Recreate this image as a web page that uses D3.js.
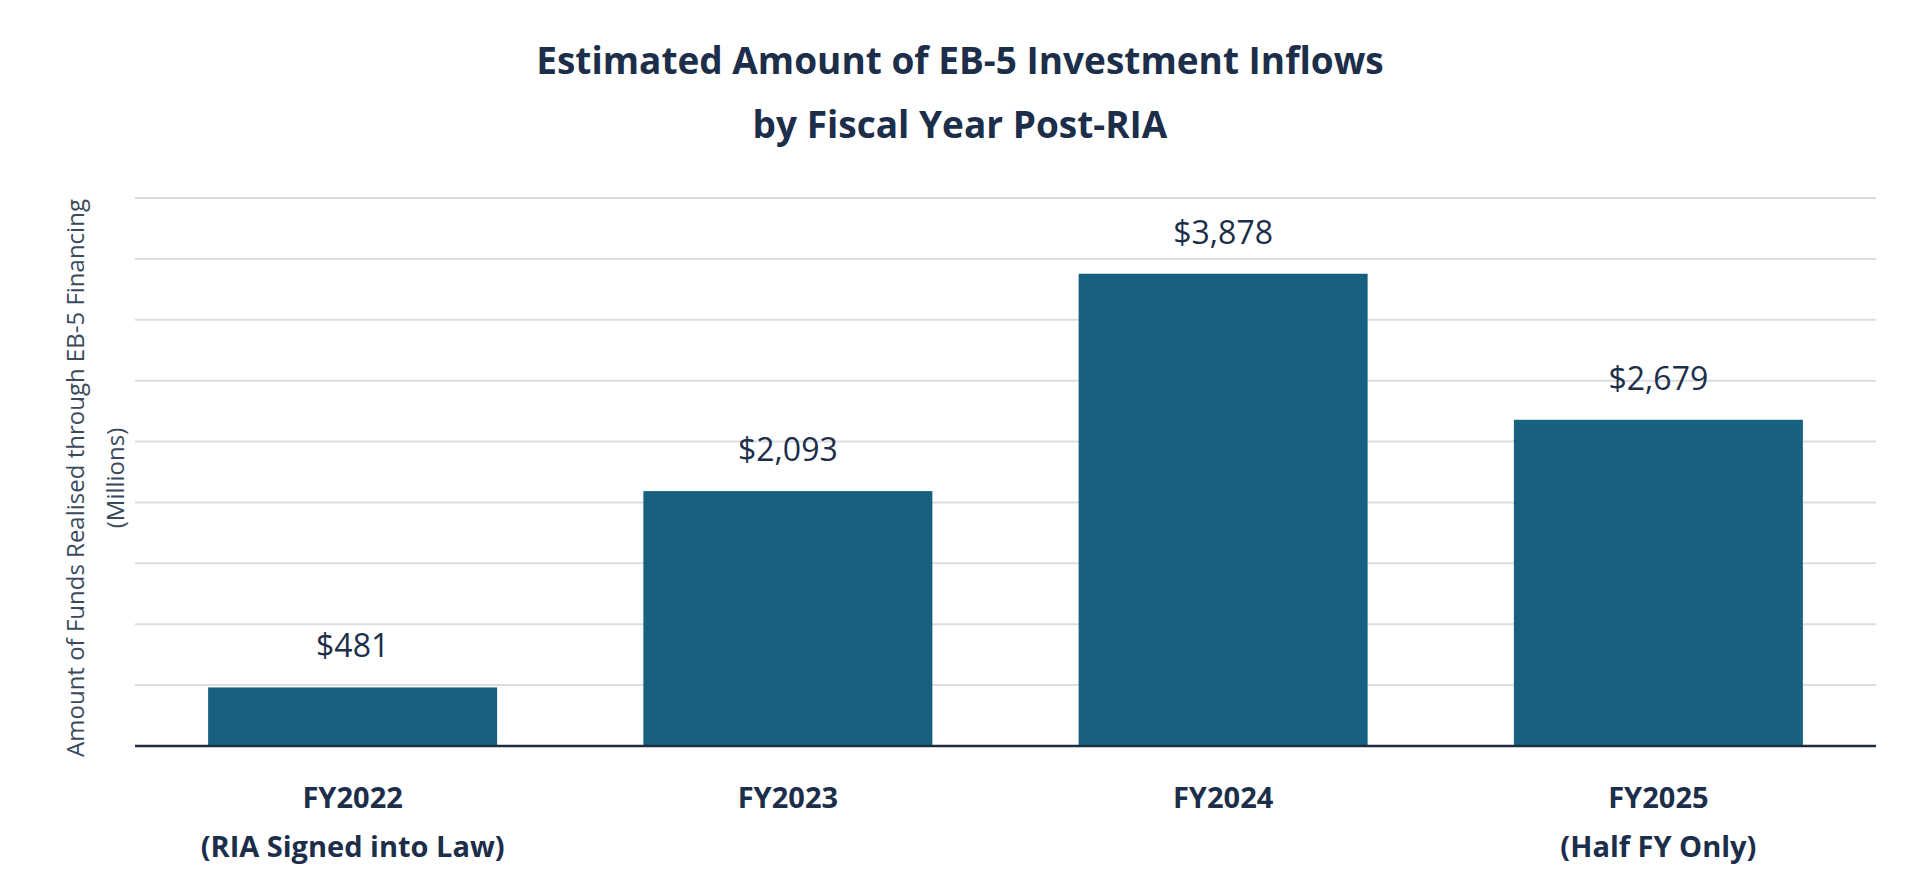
<!DOCTYPE html><html><head><meta charset="utf-8"><script src="https://cdn.jsdelivr.net/npm/d3@7"></script>
<style>body{margin:0;background:#fff}text{font-family:"Open Sans",sans-serif}</style></head><body><svg id="c" width="1920" height="886"></svg>
<script>
const categories=["FY2022","FY2023","FY2024","FY2025"];
const subLabels=["(RIA Signed into Law)","","","(Half FY Only)"];
const values=[481,2093,3878,2679];
const valueLabels=["$481","$2,093","$3,878","$2,679"];
const gridTicks=[500,1000,1500,2000,2500,3000,3500,4000,4500];
const svg=d3.select("#c");
const L=135,R=1876,T=198,B=746;
const x=d3.scaleBand().domain(categories).range([L,R]).padding(0);
const y=d3.scaleLinear().domain([0,4500]).range([B,T]);
const bw=x.bandwidth()*0.664;
svg.selectAll(".g").data(gridTicks).join("line").attr("x1",L).attr("x2",R).attr("y1",d=>y(d)).attr("y2",d=>y(d)).attr("stroke","#dcdde0").attr("stroke-width",2);
svg.selectAll(".b").data(values).join("rect").attr("x",(d,i)=>x(categories[i])+x.bandwidth()/2-bw/2).attr("width",bw).attr("y",d=>y(d)).attr("height",d=>B-y(d)).attr("fill","#17607f");
svg.append("line").attr("x1",L).attr("x2",R).attr("y1",B).attr("y2",B).attr("stroke","#1c2e40").attr("stroke-width",2.5);
svg.selectAll(".v").data(values).join("text").attr("x",(d,i)=>x(categories[i])+x.bandwidth()/2).attr("y",d=>y(d)-30).attr("text-anchor","middle").attr("font-size",32).attr("fill","#1c2e4a").text((d,i)=>valueLabels[i]);
svg.selectAll(".c").data(categories).join("text").attr("x",d=>x(d)+x.bandwidth()/2).attr("y",808).attr("text-anchor","middle").attr("font-size",29).attr("font-weight","bold").attr("fill","#1c2e4a").text(d=>d);
svg.selectAll(".s").data(subLabels).join("text").attr("x",(d,i)=>x(categories[i])+x.bandwidth()/2).attr("y",857).attr("text-anchor","middle").attr("font-size",29).attr("font-weight","bold").attr("fill","#1c2e4a").text(d=>d);
const t=svg.append("text").attr("text-anchor","middle").attr("font-size",37).attr("font-weight","bold").attr("fill","#1c2e4a");
t.append("tspan").attr("x",960).attr("y",74).text("Estimated Amount of EB-5 Investment Inflows");
t.append("tspan").attr("x",960).attr("y",138).text("by Fiscal Year Post-RIA");
const yl=svg.append("text").attr("transform","translate(0,478) rotate(-90)").attr("text-anchor","middle").attr("font-size",24).attr("fill","#3a4a5c");
yl.append("tspan").attr("x",0).attr("y",84).text("Amount of Funds Realised through EB-5 Financing");
yl.append("tspan").attr("x",0).attr("y",124).text("(Millions)");
</script></body></html>
